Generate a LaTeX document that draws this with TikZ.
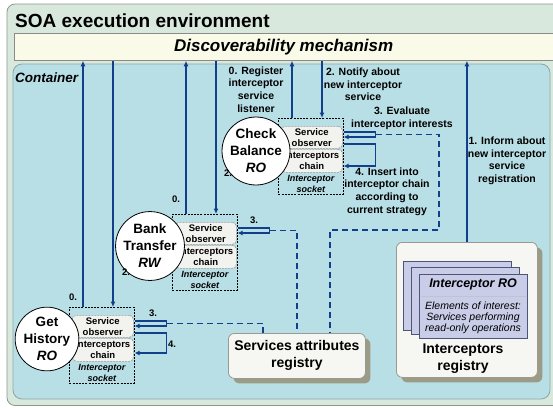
\documentclass[tikz,border=0pt]{standalone}
\usepackage{fontspec}
\setmainfont{Liberation Sans}
\usetikzlibrary{arrows.meta,calc,shadows}
\definecolor{outerc}{HTML}{D9E8DC}
\definecolor{outerb}{HTML}{8A998C}
\definecolor{contc}{HTML}{B8DFE6}
\definecolor{contb}{HTML}{8EA5A6}
\definecolor{discc}{HTML}{FAFAE8}
\definecolor{discb}{HTML}{8A8A8A}
\definecolor{arrowc}{HTML}{123F8A}
\definecolor{boxc}{HTML}{F2F2EE}
\definecolor{regc}{HTML}{F6F6F2}
\definecolor{regb}{HTML}{9A9A90}
\definecolor{shadc}{HTML}{9C9C86}
\definecolor{cardc}{HTML}{C9CDE8}
\definecolor{cardb}{HTML}{4F5578}
\tikzset{
 arr/.style={draw=arrowc, line width=1.6pt, -{Latex[length=5.5pt,width=5pt]}},
 loopar/.style={draw=arrowc, line width=1.4pt, -{Latex[length=5pt,width=5pt]}},
 dline/.style={draw=arrowc, line width=1.1pt, dash pattern=on 6pt off 4pt},
 socket/.style={draw=black, line width=0.6pt, dash pattern=on 2pt off 1.2pt, anchor=north west, minimum width=65pt, minimum height=76pt, inner sep=0},
 inbox/.style={draw=gray!80, fill=boxc, rounded corners=4pt, dash pattern=on 2pt off 1pt, line width=0.6pt, anchor=north west, minimum width=61pt, minimum height=22pt, inner sep=0, align=center, font=\bfseries\fontsize{9.5}{11}\selectfont},
 svc/.style={circle, draw=black, fill=white, line width=0.8pt, minimum size=56pt, inner sep=0, align=center, font=\bfseries\fontsize{13.5}{17}\selectfont},
 socktxt/.style={font=\bfseries\itshape\fontsize{9}{10.5}\selectfont, align=center, inner sep=0},
 lab/.style={font=\bfseries\fontsize{10.5}{12.6}\selectfont, align=center, inner sep=0},
 num/.style={font=\bfseries\fontsize{9.5}{11}\selectfont, inner sep=0},
 reg/.style={draw=regb, fill=regc, rounded corners=6pt, line width=0.8pt, anchor=north west, inner sep=0, drop shadow={shadow xshift=5pt, shadow yshift=-5pt, fill=shadc, opacity=1}},
 card/.style={draw=cardb, fill=cardc, line width=0.8pt},
}
\begin{document}
\begin{tikzpicture}[x=1pt,y=-1pt]
\useasboundingbox (0,0) rectangle (553,407);
% environment
\draw[fill=outerc, draw=outerb, line width=0.8pt, rounded corners=8pt] (7,4) rectangle (580,405.5);
\node[anchor=base west, font=\bfseries\fontsize{19}{22}\selectfont, inner sep=0] (title) at (15,27.5) {SOA execution environment};
\node[draw=discb, fill=discc, anchor=north west, minimum width=538.5pt, minimum height=27pt, inner sep=0, line width=0.8pt, font=\bfseries\itshape\fontsize{17}{20}\selectfont] (disc) at (14,33) {Discoverability mechanism};
\draw[fill=contc, draw=contb, line width=0.8pt, rounded corners=9pt] (13,64) rectangle (550,399);
\node[anchor=base west, font=\bfseries\itshape\fontsize{13.5}{16}\selectfont, inner sep=0] (cont) at (15,82) {Container};

% registries
\node[reg, minimum width=137pt, minimum height=45pt, align=center, font=\bfseries\fontsize{14}{17}\selectfont] (sar) at (228,333) {Services attributes\\registry};
\node[reg, minimum width=141pt, minimum height=135pt] (ir) at (396,242) {};
\draw[card] (403,261) rectangle (511,330);
\draw[card] (411,267) rectangle (519,334);
\node[card, anchor=north west, minimum width=108pt, minimum height=64pt, inner sep=0] (card3) at (419,274) {};
\node[font=\bfseries\itshape\fontsize{12.5}{14}\selectfont, inner sep=0] (irt) at (473,284) {Interceptor RO};
\draw[draw=cardb!35, line width=0.5pt] ($(card3.north west)+(2,22)$) -- ($(card3.north east)+(-2,22)$);
\node[font=\itshape\fontsize{10.5}{11}\selectfont, align=center, inner sep=0] (ire) at (473,318) {Elements of interest:\\Services performing\\read-only operations};
\node[font=\bfseries\fontsize{14}{17}\selectfont, align=center, inner sep=0] (irl) at (463,359) {Interceptors\\registry};

% Check Balance
\node[socket] (cbS) at (278,118) {};
\node[inbox] (cbO) at ($(cbS.north west)+(3,8)$) {Service\\observer};
\node[inbox, minimum height=23pt] (cbC) at ($(cbS.north west)+(3,31)$) {Interceptors\\chain};
\node[socktxt] (cbT) at ($(cbS.north)+(0,66)$) {Interceptor\\socket};
\node[svc] (cb) at (256,151) {Check\\Balance\\\textit{RO}};

% Bank Transfer
\node[socket] (btS) at (172,214) {};
\node[inbox] (btO) at ($(btS.north west)+(3,8)$) {Service\\observer};
\node[inbox, minimum height=23pt] (btC) at ($(btS.north west)+(3,31)$) {Interceptors\\chain};
\node[socktxt] (btT) at ($(btS.north)+(0,66)$) {Interceptor\\socket};
\node[svc] (bt) at (150,246) {Bank\\Transfer\\\textit{RW}};

% Get History
\node[socket] (ghS) at (69,307) {};
\node[inbox] (ghO) at ($(ghS.north west)+(3,8)$) {Service\\observer};
\node[inbox, minimum height=23pt] (ghC) at ($(ghS.north west)+(3,31)$) {Interceptors\\chain};
\node[socktxt] (ghT) at ($(ghS.north)+(0,66)$) {Interceptor\\socket};
\node[svc] (gh) at (47,339) {Get\\History\\\textit{RO}};

% vertical connectors
\foreach \s in {cb,bt,gh}{
  \coordinate (\s U) at ($(\s S.north west)+(14,0)$);
  \coordinate (\s D) at ($(\s S.north west)+(44,0)$);
  \draw[arr] (\s U) -- (\s U |- disc.south);
  \draw[arr] (\s D |- disc.south) -- (\s D);
  \draw[loopar] ($(\s S.north east)+(0,14)$) -- ++(32,0) -- ++(0,5) -- ++(-32,0);
  \coordinate (\s 3) at ($(\s S.north east)+(32,16.5)$);
}
\draw[arr] (ir.north) -- (ir.north |- disc.south);
\draw[loopar] ($(cbS.north east)+(0,26)$) -- ++(32,0) -- ++(0,22) -- ++(-32,0);
\draw[loopar] ($(ghS.north east)+(0,26)$) -- ++(32,0) -- ++(0,20) -- ++(-32,0);

% dashed links to the services attributes registry
\coordinate (cbd) at (439,230);
\coordinate (sarA) at (330,333);
\coordinate (sarB) at (297,333);
\coordinate (sarC) at (263,333);
\draw[dline] (cb3) -| (cbd) -| (sarA);
\draw[dline] (bt3) -| (sarB);
\draw[dline] (gh3) -| (sarC);

% labels
\node[lab] (l0) at (256,89.5) {0. Register\\interceptor\\service\\listener};
\node[lab] (l2) at (363,84.5) {2. Notify about\\new interceptor\\service};
\node[lab] (l3) at (402,118) {3. Evaluate\\interceptor interests};
\node[lab] (l4) at (387,191.5) {4. Insert into\\interceptor chain\\according to\\current strategy};
\node[lab] (l1) at (507,161) {1. Inform about\\new interceptor\\service\\registration};
\node[num] (bt0) at (176,199) {0.};
\node[num] (bt2) at (228,173) {2.};
\node[num] (bt3l) at (254,220) {3.};
\node[num] (gh0) at (73,297) {0.};
\node[num] (gh2) at (126,272) {2.};
\node[num] (gh3l) at (153,313) {3.};
\node[num] (gh4l) at (172,344) {4.};
\end{tikzpicture}
\end{document}
